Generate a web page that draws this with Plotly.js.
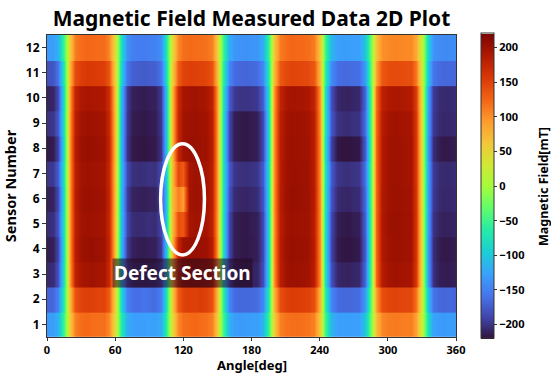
<!DOCTYPE html>
<html>
<head>
<meta charset="utf-8">
<script src="https://cdn.plot.ly/plotly-3.0.1.min.js"></script>
<style>html,body{margin:0;padding:0;background:#fff;}#chart{width:551px;height:375px;}</style>
</head>
<body>
<div id="chart"></div>
<script>
// Angle samples (deg)
const angles = [0,5,10,15,20,25,30,35,40,45,50,55,60,65,70,75,80,85,90,95,100,105,110,115,120,125,130,135,140,145,150,155,160,165,170,175,180,185,190,195,200,205,210,215,220,225,230,235,240,245,250,255,260,265,270,275,280,285,290,295,300,305,310,315,320,325,330,335,340,345,350,355,360];
const sensors = [1,2,3,4,5,6,7,8,9,10,11,12];
const xTicks = [0,60,120,180,240,300,360];
const cbTicks = [-200,-150,-100,-50,0,50,100,150,200];

// Magnetic field [mT] per sensor
const sensor1 = [-130,-129,-113,-46, 60,110,121,123,120,118,119,104,42, -64,-118,-127,-129,-128,-126,-128,-118,-64, 42,104,119,122,124,121,118,110,60, -46,-113,-129,-131,-130,-128,-129,-113,-46, 59,109,117,119,120,118,116,109,59, -45,-111,-127,-128,-129,-127,-127,-102,-23, 69,106,111,113,112,110,111,90,20, -81,-124,-130,-131,-129,-130];
const sensor2 = [-168,-166,-146,-59, 75,138,149,152,151,148,149,131,53, -81,-149,-160,-162,-158,-160,-163,-149,-81, 53,132,150,153,151,154,150,140,76, -58,-144,-163,-166,-165,-164,-163,-144,-58, 76,140,151,154,153,152,150,140,76, -58,-144,-163,-165,-166,-164,-163,-132,-30, 92,141,147,149,148,146,147,118,27, -103,-158,-166,-167,-165,-168];
const sensor3 = [-206,-204,-179,-72, 98,180,194,197,198,195,194,171,69, -102,-188,-202,-205,-206,-204,-203,-188,-102, 69,172,196,199,200,198,196,182,99, -74,-183,-208,-211,-212,-210,-208,-183,-74, 100,183,198,201,200,199,197,183,100, -73,-181,-206,-209,-210,-207,-206,-166,-37, 122,186,195,198,197,195,194,157,35, -131,-201,-212,-214,-213,-211];
const sensor4 = [-214,-212,-186,-75, 100,184,199,202,203,200,198,174,70, -106,-195,-210,-213,-214,-212,-211,-195,-106, 70,175,199,202,203,201,200,185,101, -75,-186,-212,-215,-216,-214,-212,-186,-75, 101,185,200,203,202,201,199,185,101, -76,-188,-214,-217,-218,-216,-214,-173,-39, 123,189,198,201,200,198,197,159,36, -133,-203,-214,-216,-215,-213];
const sensor5 = [-204,-202,-177,-71, 99,182,197,200,199,197,196,172,69, -102,-188,-203,-205,-204,-202,-204,-188,-102, 69,140,135,194,198,197,195,180,98, -75,-186,-212,-215,-216,-213,-212,-186,-75, 100,183,198,201,200,199,198,183,100, -75,-186,-212,-215,-216,-213,-212,-171,-39, 124,190,199,202,201,199,198,160,36, -130,-200,-209,-211,-210,-208];
const sensor6 = [-212,-210,-184,-74, 100,184,199,202,201,199,198,174,70, -105,-193,-209,-211,-212,-210,-209,-193,-105, 69,110,92,196,200,199,197,182,99, -72,-179,-204,-207,-208,-206,-204,-179,-72, 101,185,200,203,202,200,199,185,101, -72,-179,-204,-207,-208,-205,-204,-165,-37, 123,189,198,201,200,198,197,159,36, -128,-196,-205,-207,-206,-204];
const sensor7 = [-198,-196,-172,-69, 99,182,197,200,199,197,196,172,69, -101,-186,-201,-203,-202,-200,-201,-186,-101, 69,145,132,195,199,198,196,182,99, -70,-174,-198,-201,-202,-200,-198,-174,-70, 100,184,199,202,201,200,198,184,100, -70,-174,-198,-201,-202,-199,-198,-160,-36, 123,188,197,200,199,197,196,158,36, -127,-195,-204,-206,-205,-203];
const sensor8 = [-216,-214,-188,-76, 101,185,200,203,202,200,199,175,70, -108,-199,-215,-217,-218,-216,-215,-199,-108, 70,174,198,201,202,200,199,184,100, -75,-186,-212,-215,-216,-214,-212,-186,-75, 100,183,198,201,200,199,197,183,100, -76,-190,-216,-219,-219,-217,-216,-174,-39, 123,188,197,200,199,197,196,158,36, -133,-203,-214,-216,-215,-213];
const sensor9 = [-200,-198,-174,-70, 99,182,197,200,199,197,196,172,69, -107,-197,-213,-215,-216,-214,-213,-197,-107, 70,173,197,200,201,199,198,183,100, -75,-186,-212,-215,-216,-214,-212,-186,-75, 99,182,197,200,199,198,196,182,99, -71,-176,-200,-203,-204,-201,-200,-162,-36, 122,186,195,198,197,195,194,157,35, -128,-196,-205,-207,-206,-204];
const sensor10 = [-210,-208,-183,-74, 96,177,191,194,193,191,190,167,67, -106,-195,-211,-213,-214,-212,-211,-195,-106, 69,171,194,197,198,196,194,180,98, -69,-172,-196,-199,-200,-198,-196,-172,-69, 97,178,193,196,195,194,192,178,97, -73,-181,-206,-209,-210,-207,-206,-166,-37, 118,181,189,192,191,189,188,152,34, -127,-195,-204,-206,-205,-203];
const sensor11 = [-180,-178,-157,-63, 78,143,154,157,156,154,153,135,54, -86,-158,-170,-173,-174,-172,-171,-158,-86, 53,131,149,152,151,150,148,138,75, -58,-144,-163,-166,-167,-165,-163,-144,-58, 73,134,145,148,147,146,144,134,73, -57,-142,-161,-164,-164,-162,-161,-130,-29, 88,135,141,144,143,141,141,114,26, -102,-157,-164,-166,-165,-166];
const sensor12 = [-130,-129,-113,-46, 61,112,121,124,123,121,121,106,43, -75,-138,-149,-151,-152,-150,-148,-138,-75, 42,104,119,122,121,120,118,110,60, -47,-117,-134,-136,-137,-135,-134,-117,-47, 61,112,121,124,123,122,120,112,61, -45,-111,-127,-129,-129,-127,-127,-102,-23, 65,100,104,107,106,104,104,84,19, -88,-135,-141,-143,-142,-142];

const rows = [sensor1,sensor2,sensor3,sensor4,sensor5,sensor6,sensor7,sensor8,sensor9,sensor10,sensor11,sensor12];
rows.forEach((r,i)=>{ if(r.length!==angles.length) throw new Error('row '+(i+1)+' length '+r.length); });

const turbo = ['#30123b','#4145ab','#4675ed','#39a2fc','#1bcfd4','#24eca6','#61fc6c','#a4fc3b','#d1e834','#f3c63a','#fe9b2d','#f36315','#d93806','#b11901','#7a0402'];
const colorscale = turbo.map((c,i)=>[i/(turbo.length-1), c]);

const FONT = 'Noto Sans, Liberation Sans, Arial, sans-serif';

// one heatmap strip per sensor so that smoothing runs along the angle only;
// strips overlap by a hair to avoid seams between rows
const traces = sensors.map((s,i)=>({
  type:'heatmap',
  x: angles,
  y: [s-0.27, s+0.27],
  z: [rows[i], rows[i]],
  zsmooth:'best',
  coloraxis:'coloraxis',
  hoverinfo:'skip'
}));

const layout = {
  width:551, height:375,
  margin:{l:47, r:95, t:35, b:38},
  paper_bgcolor:'#fff', plot_bgcolor:'#fff',
  font:{family:FONT, color:'#000'},
  title:{text:'Magnetic Field Measured Data 2D Plot', font:{family:FONT, size:21, weight:700, color:'#000'},
         xref:'paper', x:0.5, xanchor:'center', yref:'container', y:0.95, yanchor:'middle'},
  xaxis:{range:[0,360], tickvals:xTicks, ticks:'outside', ticklen:3, tickcolor:'#333',
         showline:true, mirror:true, linecolor:'#333', linewidth:1, showgrid:false, zeroline:false,
         tickfont:{family:FONT, size:11, weight:700, color:'#000'}},
  yaxis:{range:[0.5,12.5], tickvals:sensors, ticks:'outside', ticklen:4, tickcolor:'#333',
         showline:true, mirror:true, linecolor:'#333', linewidth:1, showgrid:false, zeroline:false,
         tickfont:{family:FONT, size:12, weight:700, color:'#000'},
         title:{text:'Sensor Number', font:{family:FONT, size:14.5, weight:700, color:'#000'}, standoff:8}},
  coloraxis:{
    colorscale: colorscale, cmin:-220, cmax:220,
    colorbar:{x:1.061, xanchor:'left', xpad:0, y:0.5, yanchor:'middle', len:1.01, lenmode:'fraction', ypad:0,
      thickness:13, outlinewidth:1, outlinecolor:'#333',
      tickvals:cbTicks, ticks:'outside', ticklen:3, tickcolor:'#333',
      tickfont:{family:FONT, size:11, weight:700, color:'#000'}}
  },
  shapes:[{type:'circle', xref:'x', yref:'y', x0:100, x1:138.6, y0:3.76, y1:8.18,
           line:{color:'#fff', width:3.5}, fillcolor:'rgba(0,0,0,0)'}],
  annotations:[
    {text:'Defect Section', xref:'x', yref:'y', x:119, y:3.06, showarrow:false,
     font:{family:FONT, size:19, weight:700, color:'#fff'},
     bgcolor:'rgba(35,10,30,0.55)', borderpad:1},
    {text:'Angle[deg]', xref:'paper', yref:'paper', x:0.5, y:-0.1258, xanchor:'center', yanchor:'bottom',
     showarrow:false, borderpad:0, font:{family:FONT, size:13, weight:700, color:'#000'}},
    {text:'Magnetic Field[mT]', xref:'paper', yref:'paper', x:1.2127, y:0.5, xanchor:'center', yanchor:'middle',
     textangle:-90, showarrow:false, font:{family:FONT, size:12.5, weight:700, color:'#000'}}
  ]
};

Plotly.newPlot('chart', traces, layout, {displayModeBar:false, staticPlot:true});
</script>
</body>
</html>
